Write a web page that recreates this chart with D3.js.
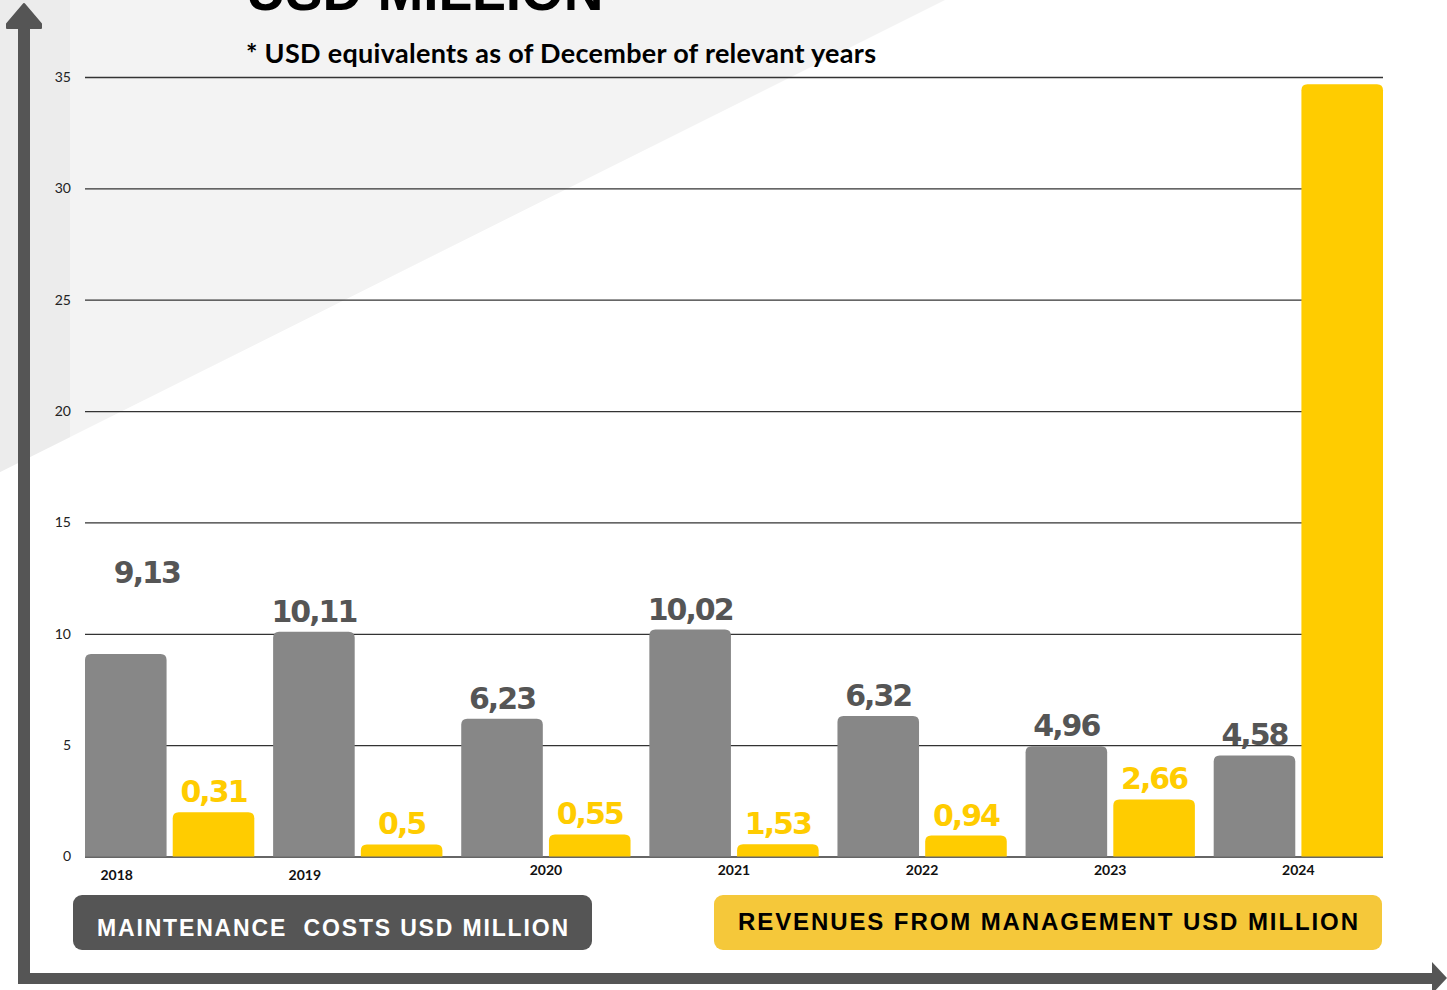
<!DOCTYPE html>
<html>
<head>
<meta charset="utf-8">
<script src="https://cdn.jsdelivr.net/npm/d3@7"></script>
<style>
  html, body { margin: 0; padding: 0; background: #ffffff; }
  svg { display: block; }
</style>
</head>
<body>
<svg id="chart" width="1447" height="990"></svg>
<script>
// chart data
let years = ['2018', '2019', '2020', '2021', '2022', '2023', '2024'];
let costValues = [9.09, 10.09, 6.18, 10.19, 6.31, 4.95, 4.54];
let costLabels = ['9,13', '10,11', '6,23', '10,02', '6,32', '4,96', '4,58'];
let revenueValues = [1.99, 0.54, 0.99, 0.55, 0.94, 2.56, 34.67];
let revenueLabels = ['0,31', '0,5', '0,55', '1,53', '0,94', '2,66', ''];
let yTicks = [0, 5, 10, 15, 20, 25, 30, 35];
let seriesKeys = ['cost', 'revenue'];

let colors = {
  cost: '#878787',
  revenue: '#ffcc00',
  costText: '#555555',
  revenueText: '#ffcc00',
  arrow: '#555555'
};

// labels that were dragged by hand in the original slide
let costLabelNudge = { '2018': [21, -61] };
let yearLabelNudge = { '2018': [-53, 5], '2019': [-53, 5] };

let svg = d3.select('#chart');

// light background shapes
svg.append('polygon')
  .attr('points', '0,0 945,0 0,472')
  .attr('fill', '#f3f3f3');
svg.append('polygon')
  .attr('points', '0,0 70,0 70,437 0,472')
  .attr('fill', '#ececec');

let x0 = d3.scaleBand()
  .domain(years)
  .range([85, 1383])
  .paddingInner(0.1)
  .paddingOuter(0);

let x1 = d3.scaleBand()
  .domain(seriesKeys)
  .range([0, x0.bandwidth()])
  .paddingInner(0.07);

let y = d3.scaleLinear()
  .domain([0, 35])
  .range([856.5, 77]);

// gridlines + tick labels
let yAxis = d3.axisLeft(y)
  .tickValues(yTicks)
  .tickSize(-(1383 - 85))
  .tickPadding(14)
  .tickFormat(d3.format('d'));

svg.append('g')
  .attr('class', 'y-axis')
  .attr('transform', 'translate(85,0)')
  .call(yAxis)
  .call(g => g.select('.domain').remove())
  .call(g => g.selectAll('.tick line').attr('stroke', '#333').attr('stroke-width', 1.3))
  .call(g => g.selectAll('.tick text')
    .attr('fill', '#222')
    .style('font-family', 'Lato, "Open Sans", sans-serif')
    .style('font-size', '14px'));

let rows = years.map((yr, i) => ({
  year: yr,
  cost: costValues[i],
  revenue: revenueValues[i],
  costLabel: costLabels[i],
  revenueLabel: revenueLabels[i]
}));

let topRounded = function (x, yy, w, h, r) {
  r = Math.min(r, h, w / 2);
  return 'M' + x + ',' + (yy + h) +
    'V' + (yy + r) +
    'Q' + x + ',' + yy + ' ' + (x + r) + ',' + yy +
    'H' + (x + w - r) +
    'Q' + (x + w) + ',' + yy + ' ' + (x + w) + ',' + (yy + r) +
    'V' + (yy + h) + 'Z';
};

let groups = svg.append('g')
  .attr('class', 'bar-graph-elements')
  .selectAll('g')
  .data(rows)
  .enter()
  .append('g')
  .attr('transform', d => 'translate(' + x0(d.year) + ',0)');

let cells = d => seriesKeys.map(k => ({ key: k, year: d.year, value: d[k], label: d[k + 'Label'] }));

groups.selectAll('path')
  .data(cells)
  .enter()
  .append('path')
  .attr('d', d => topRounded(x1(d.key), y(d.value), x1.bandwidth(), y(0) - y(d.value), 6))
  .attr('fill', d => colors[d.key]);

let nudge = function (d) {
  return (d.key === 'cost' && costLabelNudge[d.year]) || [0, 0];
};

groups.selectAll('text.value')
  .data(cells)
  .enter()
  .append('text')
  .attr('class', 'value')
  .attr('x', d => x1(d.key) + x1.bandwidth() / 2 + nudge(d)[0])
  .attr('y', d => y(d.value) - 10 + nudge(d)[1])
  .attr('text-anchor', 'middle')
  .attr('fill', d => d.key === 'cost' ? colors.costText : colors.revenueText)
  .style('font-family', '"DejaVu Sans", Verdana, sans-serif')
  .style('font-weight', 'bold')
  .style('font-size', '30px')
  .style('letter-spacing', '-2px')
  .text(d => d.label);

// year labels
svg.append('g')
  .selectAll('text')
  .data(rows)
  .enter()
  .append('text')
  .attr('x', d => x0(d.year) + x0.bandwidth() / 2 + (yearLabelNudge[d.year] || [0, 0])[0])
  .attr('y', d => 875 + (yearLabelNudge[d.year] || [0, 0])[1])
  .attr('text-anchor', 'middle')
  .attr('fill', '#111')
  .style('font-family', 'Lato, sans-serif')
  .style('font-weight', 'bold')
  .style('font-size', '14px')
  .text(d => d.year);

// title (clipped by the top edge) and note
svg.append('text')
  .attr('x', 246)
  .attr('y', 10)
  .attr('fill', '#000')
  .style('font-family', '"Liberation Sans", Arial, sans-serif')
  .style('font-weight', 'bold')
  .style('font-size', '55px')
  .text('USD MILLION');

svg.append('text')
  .attr('x', 246)
  .attr('y', 63)
  .attr('fill', '#000')
  .attr('textLength', 630)
  .attr('lengthAdjust', 'spacing')
  .style('font-family', 'Lato, "Open Sans", sans-serif')
  .style('font-weight', 'bold')
  .style('font-size', '27px')
  .text('* USD equivalents as of December of relevant years');

// legend boxes
let legend = [
  { label: 'MAINTENANCE  COSTS USD MILLION', x: 73, w: 519, fill: '#555555', text: '#ffffff', size: 23, base: 936, len: 471 },
  { label: 'REVENUES FROM MANAGEMENT USD MILLION', x: 714, w: 668, fill: '#f5c83a', text: '#000000', size: 24, base: 930, len: 620 }
];

let legendItems = svg.append('g')
  .selectAll('g')
  .data(legend)
  .enter()
  .append('g');

legendItems.append('rect')
  .attr('x', d => d.x)
  .attr('y', 895)
  .attr('width', d => d.w)
  .attr('height', 55)
  .attr('rx', 9)
  .attr('fill', d => d.fill);

legendItems.append('text')
  .attr('x', d => d.x + d.w / 2)
  .attr('y', d => d.base)
  .attr('text-anchor', 'middle')
  .attr('fill', d => d.text)
  .attr('textLength', d => d.len)
  .attr('lengthAdjust', 'spacing')
  .style('font-family', '"Liberation Sans", Arial, sans-serif')
  .style('font-weight', 'bold')
  .style('font-size', d => d.size + 'px')
  .style('white-space', 'pre')
  .text(d => d.label);

// axis arrows
svg.append('rect')
  .attr('x', 18).attr('y', 20).attr('width', 12).attr('height', 964)
  .attr('fill', colors.arrow);
svg.append('path')
  .attr('d', 'M24,4 L41,24 L41,28 L7,28 L7,24 Z')
  .attr('fill', colors.arrow)
  .attr('stroke', colors.arrow)
  .attr('stroke-linejoin', 'round')
  .attr('stroke-width', 2);
svg.append('rect')
  .attr('x', 18).attr('y', 973).attr('width', 1415).attr('height', 11)
  .attr('fill', colors.arrow);
svg.append('path')
  .attr('d', 'M1447,978 L1432,962 L1432,994 Z')
  .attr('fill', colors.arrow);
</script>
</body>
</html>
